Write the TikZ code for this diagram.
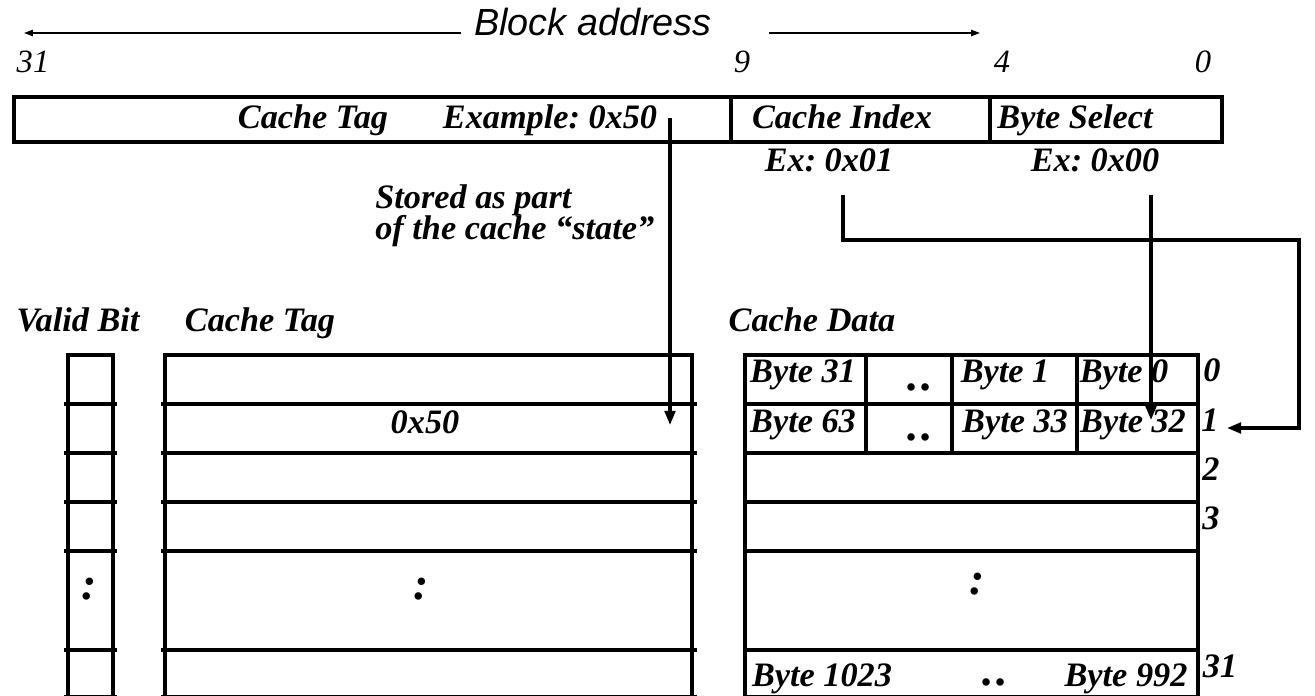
\documentclass[tikz,border=0pt]{standalone}
\usepackage{fontspec}
\setmainfont{Liberation Serif}
\setsansfont{Liberation Sans}
\usepackage{tikz}
\usetikzlibrary{arrows.meta,positioning}
\frenchspacing

\begin{document}
\begin{tikzpicture}[
  x=0.02cm, y=-0.02cm,
  lbl/.style={font=\bfseries\itshape\fontsize{19.5}{22}\selectfont, inner sep=0pt, anchor=base},
  dotlbl/.style={font=\bfseries\itshape\fontsize{26}{26}\selectfont, inner sep=0pt, anchor=base},
  bitnum/.style={font=\itshape\fontsize{18.5}{20}\selectfont, inner sep=0pt, anchor=base},
  grid/.style={line width=1.8pt},
  arr/.style={-{Triangle[length=8pt,width=6pt]}, line width=1.8pt},
  thinarr/.style={-{Triangle[length=5pt,width=3.5pt]}, line width=0.8pt}
]
  \useasboundingbox (0,0) rectangle (1315,696);

  % block address header
  \node[inner sep=0pt, font=\sffamily\itshape\fontsize{21.5}{26}\selectfont] (blk) at (593,22) {Block address};
  \coordinate (blkl) at (461,33);
  \coordinate (blkr) at (769,33);
  \coordinate (blkle) at (24,33);
  \coordinate (blkre) at (980,33);
  \draw[thinarr] (blkl) -- (blkle);
  \draw[thinarr] (blkr) -- (blkre);

  \node[bitnum] (b31) at (33,73) {31};
  \node[bitnum] (b9) at (742,73) {9};
  \node[bitnum] (b4) at (1002,73) {4};
  \node[bitnum] (b0) at (1203,73) {0};

  % address fields
  \draw[line width=2pt] (14,97) rectangle (1222,142);
  \draw[line width=2pt] (731,97) -- (731,142);
  \draw[line width=2pt] (990,97) -- (990,142);
  \node[lbl] (tagfld) at (313,129) {Cache Tag};
  \node[lbl] (tagex) at (550,129) {Example: 0x50};
  \node[lbl] (idxfld) at (842,129) {Cache Index};
  \node[lbl] (selfld) at (1075,129) {Byte Select};
  \node[lbl] (idxex) at (829,172) {Ex: 0x01};
  \node[lbl] (selex) at (1095,172) {Ex: 0x00};

  \node[lbl, anchor=base west] (stored) at (375,208) {Stored as part};
  \node[lbl, anchor=base west] (storedb) at (375,239) {of the cache “state”};

  % column titles
  \node[lbl] (validttl) at (78,331) {Valid Bit};
  \node[lbl] (tagttl) at (260,331) {Cache Tag};
  \node[lbl] (datattl) at (812,331) {Cache Data};

  % valid bit column
  \draw[grid] (68,699) |- (113,355) -- (113,699);
  \foreach \y in {404,453,502,551,650,697}
    \draw[grid] (64,\y) -- (117,\y);

  % cache tag column
  \draw[grid] (165,699) |- (692,355) -- (692,699);
  \foreach \y in {404,453,502,551,650,697}
    \draw[grid] (161,\y) -- (697,\y);

  % cache data column
  \draw[grid] (745,699) |- (1198,355) -- (1198,699);
  \foreach \y in {404,453,502,551,650,697}
    \draw[grid] (745,\y) -- (1198,\y);
  \foreach \x in {866,952,1077}
    \draw[grid] (\x,355) -- (\x,453);

  \node[lbl] (tagval) at (425,433) {0x50};
  \node[dotlbl] (vdots) at (89,599) {:};
  \node[dotlbl] (tdots) at (421,599) {:};
  \node[dotlbl] (ddots) at (977,594) {:};

  \node[lbl] (d31) at (803,382) {Byte 31};
  \node[dotlbl] (dd0) at (920,390) {.\hspace{1.5pt}.};
  \node[lbl] (d1) at (1005,382) {Byte 1};
  \node[lbl] (d0) at (1124,382) {Byte 0};
  \node[lbl] (d63) at (803,432) {Byte 63};
  \node[dotlbl] (dd1) at (920,440) {.\hspace{1.5pt}.};
  \node[lbl] (d33) at (1015,432) {Byte 33};
  \node[lbl] (d32) at (1133,432) {Byte 32};
  \node[lbl] (d1023) at (822,686) {Byte 1023};
  \node[dotlbl] (dd31) at (995,685) {.\hspace{1.5pt}.};
  \node[lbl] (d992) at (1126,686) {Byte 992};

  % row numbers
  \node[lbl] (r0) at (1212,381) {0};
  \node[lbl] (r1) at (1210,431) {1};
  \node[lbl] (r2) at (1211,480) {2};
  \node[lbl] (r3) at (1211,529) {3};
  \node[lbl] (r31) at (1220,677) {31};

  % connectors
  \coordinate (tagsrc) at (670,118);
  \coordinate (tagdst) at (670,425);
  \draw[arr] (tagsrc) -- (tagdst);

  \coordinate (idxsrc) at (843,195);
  \coordinate (idxturn) at (1299,240);
  \coordinate (idxdst) at (1227,428);
  \draw[arr] (idxsrc) |- (idxturn) |- (idxdst);

  \coordinate (selsrc) at (1151,195);
  \coordinate (seldst) at (1151,420);
  \draw[arr] (selsrc) -- (seldst);
\end{tikzpicture}
\end{document}
